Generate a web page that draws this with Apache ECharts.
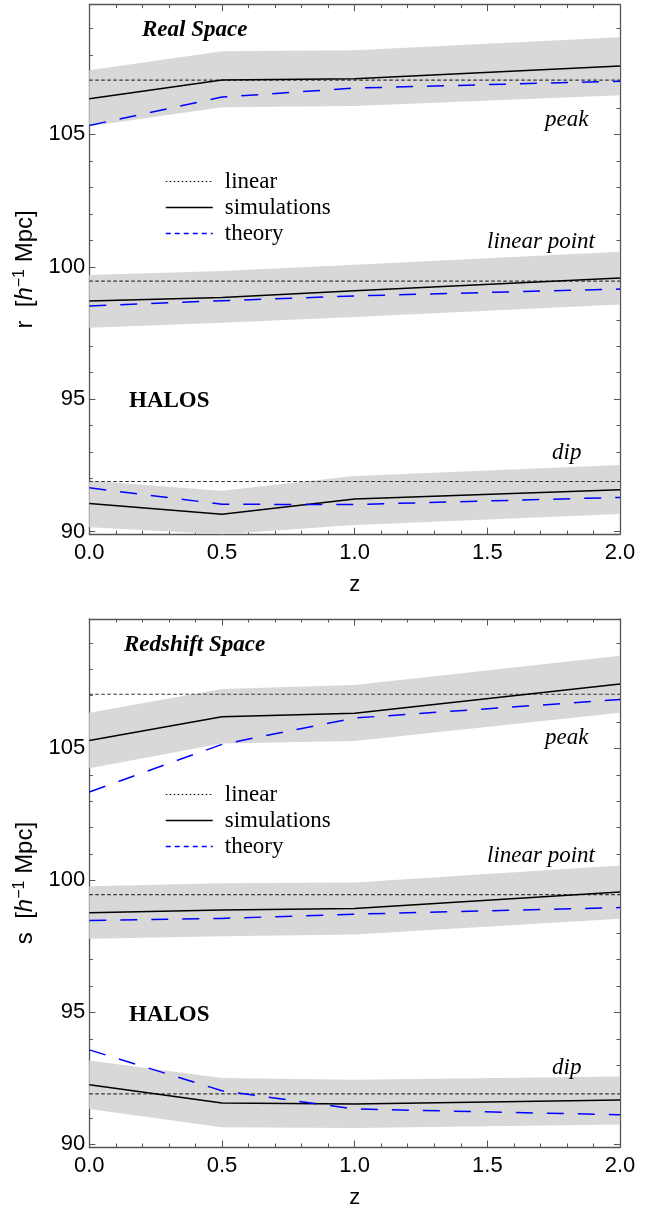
<!DOCTYPE html>
<html>
<head>
<meta charset="utf-8">
<script src="https://cdn.jsdelivr.net/npm/echarts@6/dist/echarts.min.js"></script>
<style>
  html, body { margin: 0; padding: 0; background: #fff; }
  #chart { width: 661px; height: 1210px; }
</style>
</head>
<body>
<div id="chart"></div>
<script>
// redshift snapshots
var zs = [0, 0.5, 1, 2];
var zEnds = [0, 2];
var yMajor = [90, 95, 100, 105];
var yMinor = [90, 91, 92, 93, 94, 95, 96, 97, 98, 99, 100, 101, 102, 103, 104, 105, 106, 107, 108, 109];

// real space
var realPeakLinear = 107.05;
var realPeakSim = [106.35, 107.06, 107.1, 107.58];
var realPeakTheory = [105.34, 106.41, 106.75, 107.01];
var realPeakLow = [105.31, 106.03, 106.07, 106.48];
var realPeakHigh = [107.42, 108.14, 108.18, 108.67];

var realLpLinear = 99.46;
var realLpSim = [98.71, 98.84, 99.1, 99.58];
var realLpTheory = [98.52, 98.72, 98.9, 99.16];
var realLpLow = [97.7, 97.89, 98.1, 98.58];
var realLpHigh = [99.69, 99.84, 100.08, 100.57];

var realDipLinear = 91.89;
var realDipSim = [91.06, 90.65, 91.23, 91.58];
var realDipTheory = [91.65, 91.03, 91.02, 91.29];
var realDipLow = [90.16, 89.8, 90.25, 90.66];
var realDipHigh = [91.92, 91.54, 92.1, 92.51];

// redshift space
var rsdPeakLinear = 107.05;
var rsdPeakSim = [105.3, 106.2, 106.33, 107.44];
var rsdPeakTheory = [103.35, 105.15, 106.15, 106.85];
var rsdPeakLow = [104.25, 105.18, 105.28, 106.35];
var rsdPeakHigh = [106.35, 107.25, 107.4, 108.51];

var rsdLpLinear = 99.46;
var rsdLpSim = [98.77, 98.88, 98.93, 99.56];
var rsdLpTheory = [98.48, 98.56, 98.72, 98.97];
var rsdLpLow = [97.79, 97.88, 97.95, 98.55];
var rsdLpHigh = [99.78, 99.89, 99.92, 100.56];

var rsdDipLinear = 91.91;
var rsdDipSim = [92.26, 91.57, 91.53, 91.68];
var rsdDipTheory = [93.58, 92.03, 91.34, 91.12];
var rsdDipLow = [91.34, 90.65, 90.62, 90.75];
var rsdDipHigh = [93.18, 92.51, 92.45, 92.57];

var SANS = 'Liberation Sans';
var SERIF = 'Liberation Serif';
var FRAME = '#555';

function pairs(xs, ys) {
  return xs.map(function (x, i) { return [x, ys[i]]; });
}

// gray error band, drawn as one polygon through the axis scales
function band(g, low, high) {
  return {
    type: 'custom', xAxisIndex: g * 2, yAxisIndex: g * 4, silent: true, z: 1,
    data: zs.map(function (x, i) { return [x, low[i], high[i]]; }),
    encode: { x: 0, y: [1, 2] },
    renderItem: function (params, api) {
      if (params.dataIndex !== 0) return;
      var pts = [];
      zs.forEach(function (x, i) { pts.push(api.coord([x, high[i]])); });
      for (var i = zs.length - 1; i >= 0; i--) pts.push(api.coord([zs[i], low[i]]));
      var cs = params.coordSys;
      pts = echarts.graphic.clipPointsByRect(pts, { x: cs.x, y: cs.y, width: cs.width, height: cs.height });
      return { type: 'polygon', shape: { points: pts }, style: { fill: '#d8d8d8' } };
    }
  };
}

function lines(g, linear, sim, theory) {
  return [
    { name: 'linear', type: 'line', xAxisIndex: g * 2, yAxisIndex: g * 4, data: pairs(zEnds, [linear, linear]),
      symbol: 'none', lineStyle: { color: '#333', width: 1.2, type: [3.5, 2.5] }, z: 3 },
    { name: 'simulations', type: 'line', xAxisIndex: g * 2, yAxisIndex: g * 4, data: pairs(zs, sim),
      symbol: 'none', lineStyle: { color: '#000', width: 1.5 }, z: 4 },
    { name: 'theory', type: 'line', xAxisIndex: g * 2, yAxisIndex: g * 4, data: pairs(zs, theory),
      symbol: 'none', lineStyle: { color: '#0000ff', width: 1.5, type: [17, 14] }, z: 5 }
  ];
}

function xAxes(g) {
  var base = {
    gridIndex: g, type: 'value', min: 0, max: 2, interval: 0.5,
    axisLine: { show: true, onZero: false, lineStyle: { color: FRAME, width: 1.3 } },
    axisTick: { show: true, inside: true, length: 6.5, lineStyle: { color: FRAME, width: 1 } },
    minorTick: { show: true, splitNumber: 5, length: 3.5, lineStyle: { color: FRAME, width: 1 } },
    splitLine: { show: false }
  };
  var bottom = Object.assign({}, base, {
    position: 'bottom',
    name: 'z', nameLocation: 'middle', nameGap: 40,
    nameTextStyle: { fontFamily: SANS, fontSize: 22, color: '#000' },
    axisLabel: { show: true, margin: 8, fontFamily: SANS, fontSize: 22, color: '#000',
      formatter: function (v) { return v.toFixed(1); } }
  });
  var top = Object.assign({}, base, { position: 'top', axisLabel: { show: false } });
  return [bottom, top];
}

function yAxes(g, letter) {
  function ax(pos, major) {
    return {
      gridIndex: g, type: 'value', min: 89.9, max: 109.9, position: pos,
      axisLine: { show: major, onZero: false, lineStyle: { color: FRAME, width: 1.3 } },
      axisTick: { show: true, inside: true, length: major ? 6 : 3.5,
        customValues: major ? yMajor : yMinor, lineStyle: { color: FRAME, width: 1 } },
      axisLabel: { show: false },
      splitLine: { show: false }
    };
  }
  var left = ax('left', true);
  left.axisLabel = { show: true, customValues: yMajor, margin: 4, fontFamily: SANS, fontSize: 22, color: '#000' };
  left.name = '{n|' + letter + '  [}{i|h}{s|\u22121}{n| Mpc]}';
  left.nameLocation = 'middle';
  left.nameRotate = 90;
  left.nameGap = 50;
  left.nameTextStyle = {
    fontFamily: SANS, fontSize: 24, color: '#000',
    rich: {
      n: { fontFamily: SANS, fontSize: 24, color: '#000', lineHeight: 28 },
      i: { fontFamily: SANS, fontSize: 24, fontStyle: 'italic', color: '#000', lineHeight: 28 },
      s: { fontFamily: SANS, fontSize: 16, color: '#000', lineHeight: 16, verticalAlign: 'top' }
    }
  };
  return [left, ax('left', false), ax('right', true), ax('right', false)];
}

function legend(top) {
  return {
    left: 165, top: top, orient: 'vertical', padding: 0,
    itemWidth: 47, itemHeight: 10, itemGap: 3,
    selectedMode: false,
    itemStyle: { color: 'rgba(0,0,0,0)', opacity: 0, borderWidth: 0 },
    textStyle: { fontFamily: SERIF, fontSize: 23, color: '#000', lineHeight: 22, padding: [0, 0, 0, 7] },
    data: [
      { name: 'linear', lineStyle: { type: [1.5, 2.5], color: '#000', width: 1.2 } },
      { name: 'simulations', lineStyle: { type: 'solid', width: 1.5 } },
      { name: 'theory', lineStyle: { type: [5, 4], width: 1.5 } }
    ]
  };
}

function note(text, x, y, style) {
  return {
    type: 'text', x: x, y: y, silent: true, z: 10,
    style: Object.assign({ text: text, fontFamily: SERIF, fontSize: 23, fill: '#000', verticalAlign: 'middle' }, style || {})
  };
}

var it = { fontStyle: 'italic' };
var bi = { fontStyle: 'italic', fontWeight: 'bold' };
var bo = { fontWeight: 'bold' };

var series = [].concat(
  band(0, realPeakLow, realPeakHigh),
  band(0, realLpLow, realLpHigh),
  band(0, realDipLow, realDipHigh),
  lines(0, realPeakLinear, realPeakSim, realPeakTheory),
  lines(0, realLpLinear, realLpSim, realLpTheory),
  lines(0, realDipLinear, realDipSim, realDipTheory),
  band(1, rsdPeakLow, rsdPeakHigh),
  band(1, rsdLpLow, rsdLpHigh),
  band(1, rsdDipLow, rsdDipHigh),
  lines(1, rsdPeakLinear, rsdPeakSim, rsdPeakTheory),
  lines(1, rsdLpLinear, rsdLpSim, rsdLpTheory),
  lines(1, rsdDipLinear, rsdDipSim, rsdDipTheory)
);

var chart = echarts.init(document.getElementById('chart'), null, { renderer: 'canvas' });
chart.setOption({
  animation: false,
  backgroundColor: '#fff',
  grid: [
    { left: 89.3, right: 41, top: 4.7, height: 529.5 },
    { left: 89.3, right: 41, top: 619, height: 529.7 }
  ],
  xAxis: [].concat(xAxes(0), xAxes(1)),
  yAxis: [].concat(yAxes(0, 'r'), yAxes(1, 's')),
  legend: [legend(170), legend(783)],
  graphic: [
    note('Real Space', 142, 30, bi),
    note('peak', 545, 120, it),
    note('linear point', 487, 242, it),
    note('HALOS', 129, 401, bo),
    note('dip', 552, 453, it),
    note('Redshift Space', 124, 645, bi),
    note('peak', 545, 738, it),
    note('linear point', 487, 856, it),
    note('HALOS', 129, 1015, bo),
    note('dip', 552, 1068, it)
  ],
  series: series
});
</script>
</body>
</html>
